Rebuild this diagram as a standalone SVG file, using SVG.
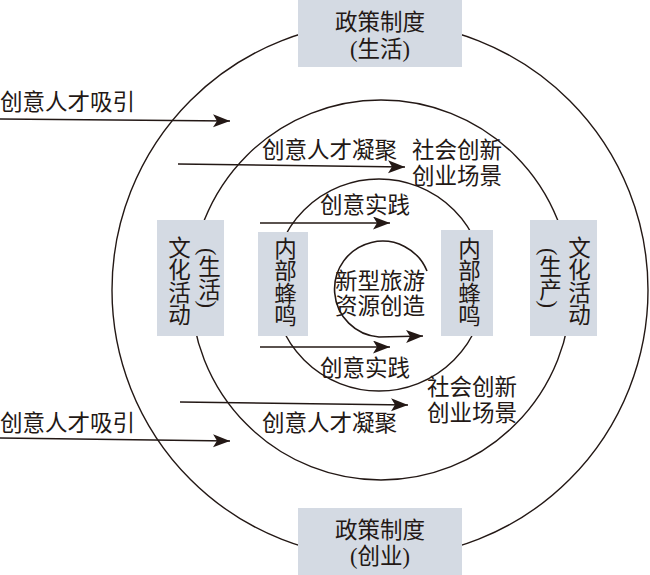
<svg xmlns="http://www.w3.org/2000/svg" width="650" height="575" viewBox="0 0 650 575">
<style>
.t{font-family:"Liberation Serif","Noto Sans CJK SC",serif;font-size:22.5px;fill:#231815;dominant-baseline:central}
.c{text-anchor:middle}
.v{writing-mode:vertical-rl;text-anchor:middle}
.ring{fill:none;stroke:#231815;stroke-width:1.4}
.box{fill:#d4dae3}
.arr{fill:none;stroke:#231815;stroke-width:1.6;marker-end:url(#ah)}
</style>
<defs>
<marker id="ah" markerUnits="userSpaceOnUse" markerWidth="20" markerHeight="14" refX="17" refY="6.5" orient="auto">
<path d="M0,0 L17,6.5 L0,13 L4,6.5 z" fill="#231815"/>
</marker>
</defs>
<rect width="650" height="575" fill="#ffffff"/>
<g id="rings">
<circle class="ring" cx="380" cy="290" r="268"/>
<circle class="ring" cx="381" cy="290" r="190"/>
<circle class="ring" cx="379" cy="285" r="106"/>
</g>
<g id="connectors">
<path class="arr" d="M0,119 L230,121"/>
<path class="arr" d="M178,164 L405,167"/>
<path class="arr" d="M260,223 L390,223"/>
<path class="arr" d="M260,347 L390,347"/>
<path class="arr" d="M180,402 L408,405"/>
<path class="arr" d="M0,438 L230,441"/>
<path class="arr" d="M427,271 A48,48 0 1 0 379,337 L423,336"/>
</g>
<g id="policy-top">
<rect class="box" x="298" y="0" width="164" height="67"/>
<text class="t c" x="380" y="22">政策制度</text>
<text class="t c" x="380" y="49">(生活)</text>
</g>
<g id="policy-bottom">
<rect class="box" x="298" y="508" width="164" height="67"/>
<text class="t c" x="380" y="530">政策制度</text>
<text class="t c" x="380" y="556">(创业)</text>
</g>
<g id="culture-life">
<rect class="box" x="157" y="220" width="67" height="116"/>
<text class="t v" x="177" y="281">文化活动</text>
<text class="t v" x="207" y="278">(生活)</text>
</g>
<g id="buzz-left">
<rect class="box" x="258" y="232" width="50" height="104"/>
<text class="t v" x="283" y="282">内部蜂鸣</text>
</g>
<g id="buzz-right">
<rect class="box" x="441" y="230" width="52" height="106"/>
<text class="t v" x="467" y="282">内部蜂鸣</text>
</g>
<g id="culture-production">
<rect class="box" x="530" y="220" width="67" height="116"/>
<text class="t v" x="577" y="281">文化活动</text>
<text class="t v" x="548" y="278">(生产)</text>
</g>
<g id="core">
<text class="t" x="335" y="281">新型旅游</text>
<text class="t" x="335" y="306">资源创造</text>
</g>
<g id="labels">
<text class="t" x="0" y="102">创意人才吸引</text>
<text class="t" x="0" y="423">创意人才吸引</text>
<text class="t" x="262" y="150">创意人才凝聚</text>
<text class="t" x="262" y="423">创意人才凝聚</text>
<text class="t" x="412" y="150">社会创新</text>
<text class="t" x="412" y="176">创业场景</text>
<text class="t" x="427" y="387">社会创新</text>
<text class="t" x="427" y="413">创业场景</text>
<text class="t" x="320" y="205">创意实践</text>
<text class="t" x="320" y="368">创意实践</text>
</g>
</svg>
